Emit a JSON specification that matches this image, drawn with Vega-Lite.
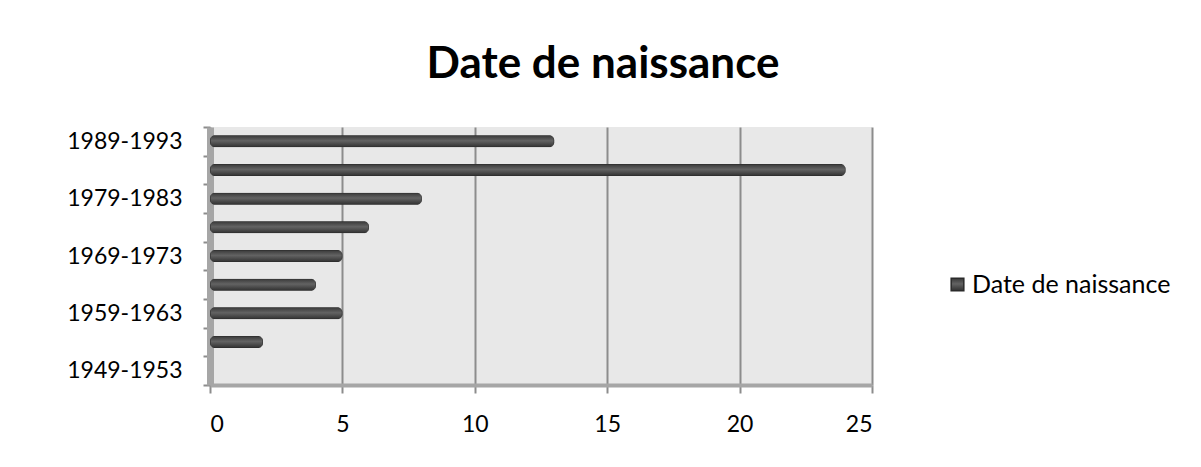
{
  "$schema": "https://vega.github.io/schema/vega-lite/v6.json",
  "width": 662,
  "height": 258,
  "autosize": {"type": "none"},
  "padding": {"left": 210, "top": 127, "right": 329, "bottom": 82},
  "background": "white",
  "title": {
    "text": "Date de naissance",
    "font": "Lato",
    "fontSize": 44,
    "fontWeight": "bold",
    "color": "black",
    "anchor": "middle",
    "dx": 62,
    "offset": 29
  },
  "config": {
    "view": {"fill": "#e8e8e8", "stroke": null},
    "font": "Lato"
  },
  "data": {
    "values": [
      {"periode": "1949-1953", "effectif": 0, "serie": "Date de naissance"},
      {"periode": "1954-1958", "effectif": 2, "serie": "Date de naissance"},
      {"periode": "1959-1963", "effectif": 5, "serie": "Date de naissance"},
      {"periode": "1964-1968", "effectif": 4, "serie": "Date de naissance"},
      {"periode": "1969-1973", "effectif": 5, "serie": "Date de naissance"},
      {"periode": "1974-1978", "effectif": 6, "serie": "Date de naissance"},
      {"periode": "1979-1983", "effectif": 8, "serie": "Date de naissance"},
      {"periode": "1984-1988", "effectif": 24, "serie": "Date de naissance"},
      {"periode": "1989-1993", "effectif": 13, "serie": "Date de naissance"}
    ]
  },
  "mark": {
    "type": "bar",
    "size": 12,
    "cornerRadius": 5,
    "strokeWidth": 1.2,
    "fill": {
      "gradient": "linear",
      "x1": 0, "y1": 0, "x2": 0, "y2": 1,
      "stops": [
        {"offset": 0, "color": "#383838"},
        {"offset": 0.45, "color": "#636363"},
        {"offset": 1, "color": "#303030"}
      ]
    }
  },
  "encoding": {
    "y": {
      "field": "periode",
      "type": "nominal",
      "sort": "descending",
      "scale": {"paddingInner": 0, "paddingOuter": 0},
      "axis": {
        "title": null,
        "labelExpr": "indexof(['1949-1953','1959-1963','1969-1973','1979-1983','1989-1993'], datum.label) >= 0 ? datum.label : ''",
        "labelFont": "Lato",
        "labelFontSize": 23,
        "labelColor": "black",
        "labelPadding": 21,
        "labelBaseline": "middle",
        "labelOverlap": false,
        "tickBand": "extent",
        "tickSize": 7,
        "tickColor": "#8c8c8c",
        "tickWidth": 2,
        "domainColor": "#a6a6a6",
        "domainWidth": 7,
        "grid": false
      }
    },
    "x": {
      "field": "effectif",
      "type": "quantitative",
      "scale": {"domain": [0, 25], "nice": false},
      "axis": {
        "title": null,
        "values": [0, 5, 10, 15, 20, 25],
        "labelFont": "Lato",
        "labelFontSize": 23,
        "labelColor": "black",
        "labelPadding": 20,
        "tickSize": 8,
        "tickColor": "#8c8c8c",
        "tickWidth": 2,
        "domainColor": "#a6a6a6",
        "domainWidth": 4,
        "grid": true,
        "gridColor": "#8c8c8c",
        "gridWidth": 2
      }
    },
    "stroke": {
      "field": "serie",
      "type": "nominal",
      "scale": {"range": ["#2a2a2a"]},
      "legend": {
        "title": null,
        "orient": "none",
        "legendX": 735,
        "legendY": 145,
        "padding": 0,
        "symbolType": "square",
        "symbolSize": 160,
        "symbolFillColor": "#5e5e5e",
        "symbolStrokeColor": "#3a3a3a",
        "symbolStrokeWidth": 1.5,
        "labelFont": "Lato",
        "labelFontSize": 25,
        "labelColor": "black",
        "labelOffset": 2,
        "labelLimit": 0
      }
    }
  }
}
